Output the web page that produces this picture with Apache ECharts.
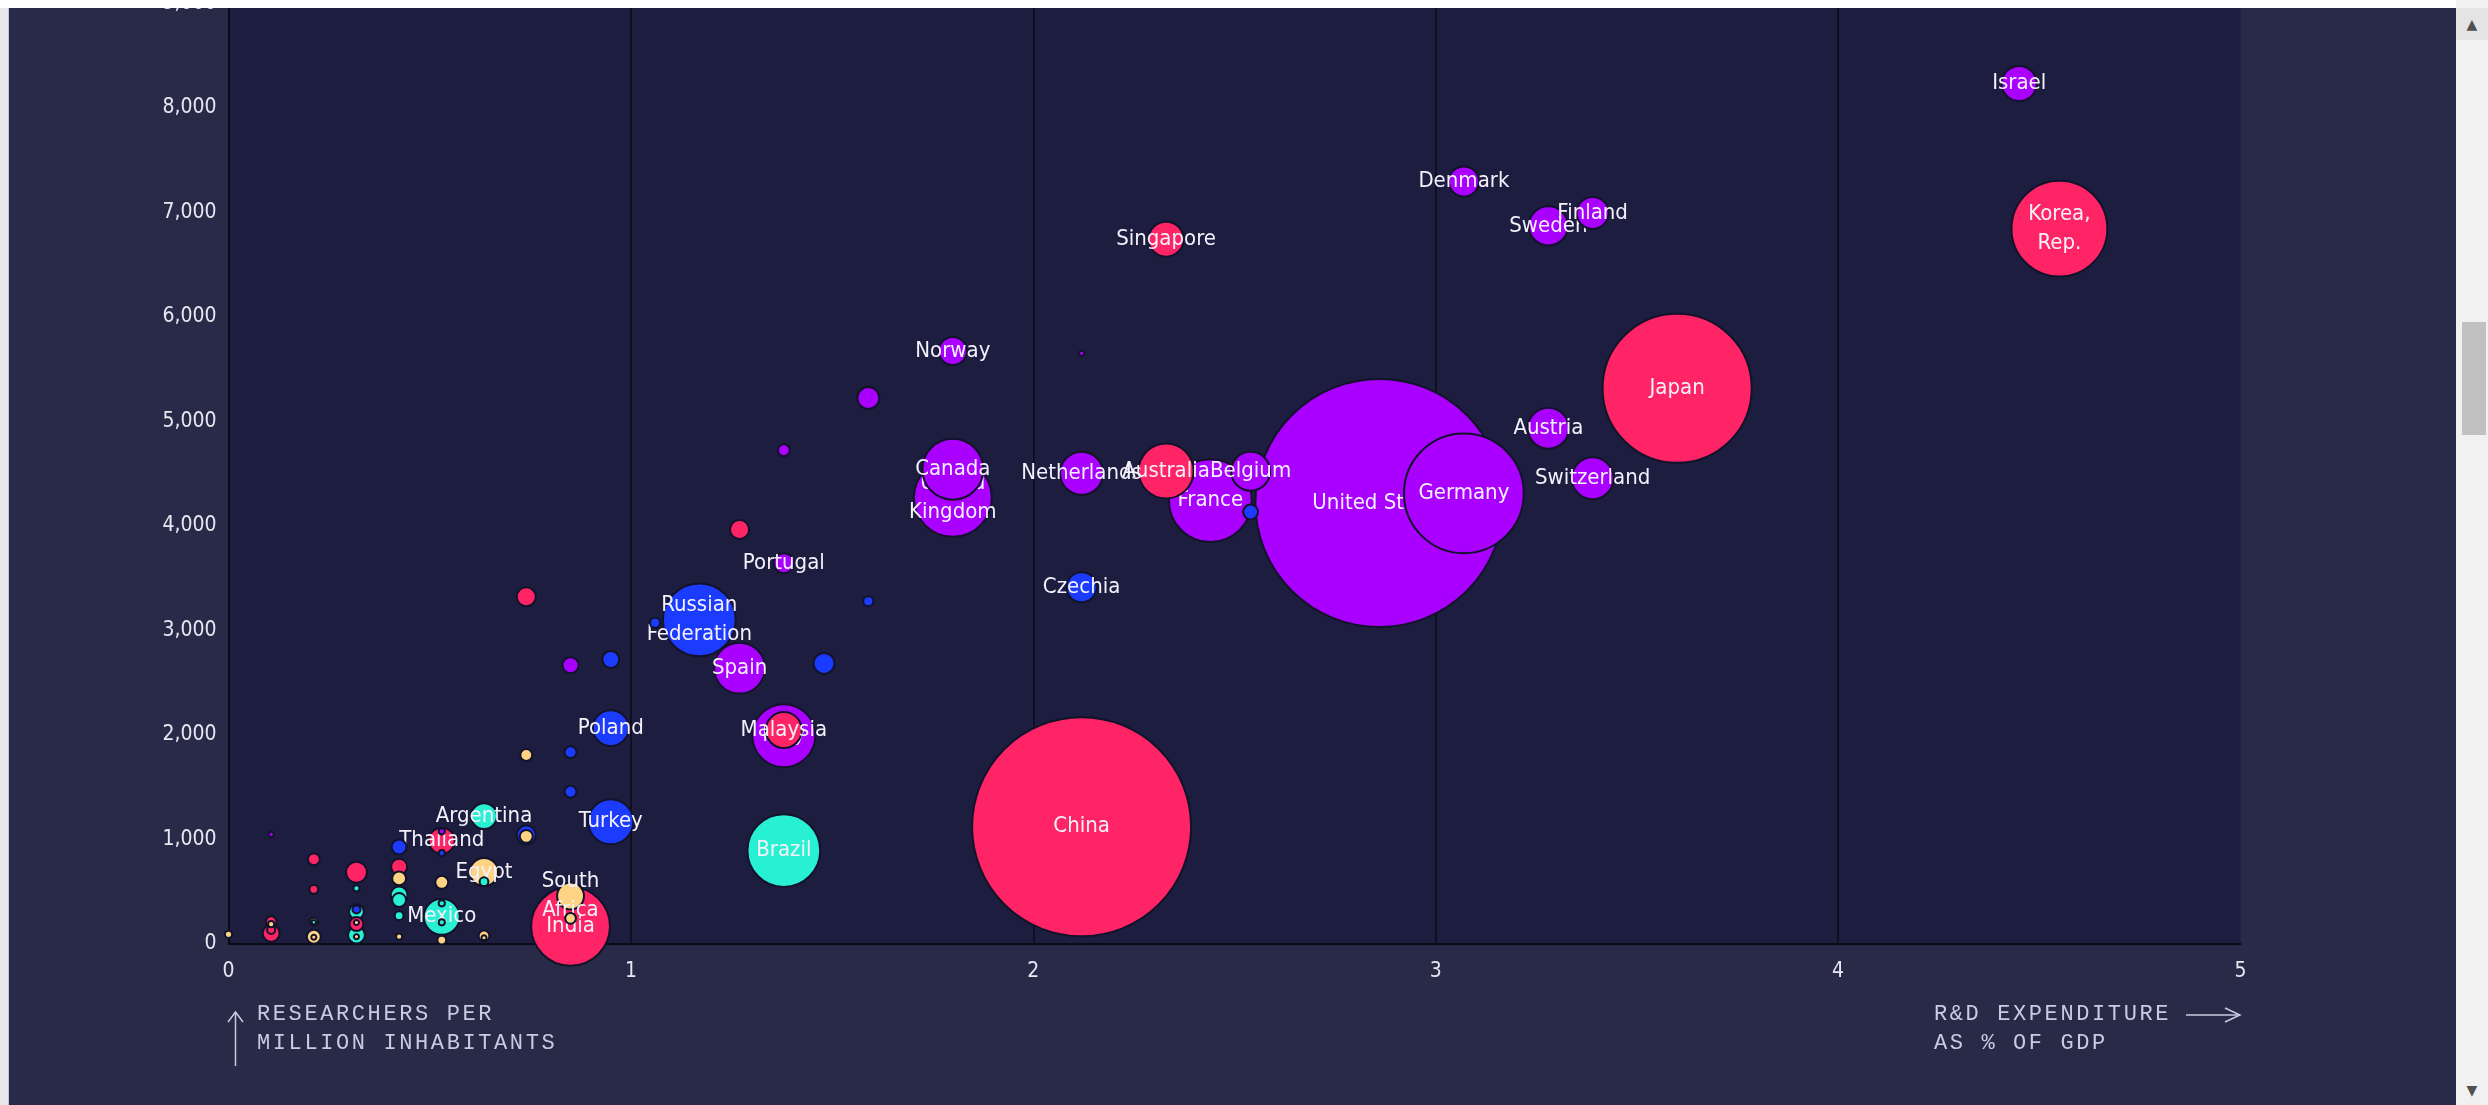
<!DOCTYPE html>
<html>
<head>
<meta charset="utf-8">
<script src="https://cdn.jsdelivr.net/npm/echarts@6/dist/echarts.min.js"></script>
<style>
  html, body { margin: 0; padding: 0; background: #282a48; overflow: hidden; }
  #chart { position: absolute; left: 0; top: 0; width: 2488px; height: 1105px; }
  .ttl { position: absolute; font-family: 'Liberation Mono', 'DejaVu Sans Mono', monospace; font-size: 22px;
         line-height: 29px; letter-spacing: 2.6px; color: #c9cbe0; white-space: nowrap; z-index: 5; }
  #topstrip { position: absolute; left: 0; top: 0; width: 2456px; height: 8px; background: #ffffff; z-index: 6; }
  #leftstrip { position: absolute; left: 0; top: 8px; width: 8px; height: 1097px; background: #e8e8eb; border-right: 1px solid #b9c6dc; z-index: 6; }
  #sb { position: absolute; left: 2456px; top: 0; width: 32px; height: 1105px; background: #f1f1f1; z-index: 6; }
  #sbup { position: absolute; left: 2456px; top: 8px; width: 32px; height: 32px; background: #e4e4e4; z-index: 7;
          color: #505050; font: 14px 'DejaVu Sans', sans-serif; text-align: center; line-height: 32px; }
  #sbdown { position: absolute; left: 2456px; top: 1076px; width: 32px; height: 29px; z-index: 7;
          color: #505050; font: 14px 'DejaVu Sans', sans-serif; text-align: center; line-height: 29px; }
  #sbthumb { position: absolute; left: 2462px; top: 322px; width: 24px; height: 113px; background: #c1c1c1; z-index: 7; }
</style>
</head>
<body>
<div id="chart"></div>
<div id="topstrip"></div>
<div id="leftstrip"></div>
<div id="sb"></div>
<div id="sbup">▲</div>
<div id="sbdown">▼</div>
<div id="sbthumb"></div>
<div class="ttl" style="left:257px; top:1000px;">RESEARCHERS PER<br>MILLION INHABITANTS</div>
<div class="ttl" style="left:1934px; top:1000px;">R&amp;D EXPENDITURE<br>AS % OF GDP</div>
<script>
// ---- Data ----
// Country labels (empty string = unlabeled country)
const names = [
  'United States', 'China', 'Japan', 'Germany', 'Korea,\nRep.', 'France', 'India', 'United\nKingdom',
  'Russian\nFederation', 'Brazil', 'Italy', 'Canada', 'Australia', 'Spain', 'Turkey', 'Netherlands',
  'Switzerland', 'Austria', 'Sweden', 'Belgium', 'Poland', 'Malaysia', 'Mexico', 'Israel',
  'Singapore', 'Finland', 'Denmark', 'Czechia', 'Norway', 'Egypt', 'South\nAfrica', 'Thailand',
  'Argentina', 'Portugal',
  '', '', '', '', '', '', '', '', '', '', '', '', '', '', '', '', '', '', '', '', '', '', '', '', '', '',
  '', '', '', '', '', '', '', '', '', '', '', '', '', '', '', '', '', '', '', '', '', '', '', '', '', '', ''
];
// R&D expenditure as % of GDP (x)
const rdPercent = [
  2.86, 2.12, 3.60, 3.07, 4.55, 2.44, 0.85, 1.80,
  1.17, 1.38, 1.38, 1.80, 2.33, 1.27, 0.95, 2.12,
  3.39, 3.28, 3.28, 2.54, 0.95, 1.38, 0.53, 4.45,
  2.33, 3.39, 3.07, 2.12, 1.80, 0.635, 0.85, 0.53,
  0.635, 1.38,
  1.59, 1.38, 2.12, 1.27, 1.59, 1.06, 0.95, 1.48, 0.74, 0.85,
  2.54, 0.85, 0.85, 0.74, 0.74, 0.74, 0.106, 0.424, 0.53, 0.53,
  0.212, 0.212, 0.318, 0.318, 0.424, 0.424, 0.424, 0.424, 0.424, 0.424,
  0.53, 0.53, 0.53, 0.53, 0.635, 0.635, 0.635, 0.318, 0.318, 0.318,
  0.318, 0.318, 0.318, 0.106, 0.106, 0.106, 0.106, 0.212, 0.212, 0.212,
  0.212, 0, 0.85
];
// Researchers per million inhabitants (y)
const researchers = [
  4220, 1122, 5318, 4313, 6845, 4242, 169, 4270,
  3102, 894, 1994, 4543, 4527, 2640, 1170, 4505,
  4457, 4935, 6872, 4524, 2066, 2047, 261, 8235,
  6745, 6996, 7297, 3414, 5674, 689, 459, 988,
  1224, 3644,
  5225, 4725, 5652, 3966, 3280, 3073, 2723, 2685, 3322, 2668,
  4134, 1836, 1457, 1808, 1042, 1030, 1049, 928, 1078, 869,
  810, 523, 686, 533, 739, 628, 469, 421, 271, 70,
  590, 389, 208, 38, 596, 77, 60, 309, 330, 191,
  205, 86, 70, 102, 135, 213, 190, 213, 208, 70,
  65, 93, 246
];
// Total R&D spending, billion US$ PPP (bubble area)
const rdSpend = [
  476, 371, 172, 111, 71, 53, 48, 47,
  41, 41, 30.7, 28.8, 23.4, 20.1, 15.7, 14.3,
  13.6, 13.0, 11.8, 11.8, 10.0, 10.0, 10.0, 9.5,
  9.5, 7.9, 7.0, 7.0, 6.1, 6.1, 5.6, 5.2,
  5.2, 3.1,
  3.7, 1.1, 0.2, 2.8, 0.8, 0.8, 2.2, 3.4, 2.8, 2.0,
  1.7, 1.1, 1.1, 1.1, 2.8, 1.3, 0.2, 1.7, 0.3, 0.3,
  1.1, 0.6, 3.4, 0.3, 2.0, 1.5, 2.2, 1.5, 0.6, 0.3,
  1.3, 0.3, 0.3, 0.6, 0.6, 0.9, 0.2, 1.7, 0.5, 1.5,
  0.2, 2.2, 0.2, 2.2, 0.5, 0.9, 0.3, 0.5, 0.15, 1.5,
  0.2, 0.4, 0.9
];
// Region group
const region = [
  'NA', 'EAP', 'EAP', 'EU', 'EAP', 'EU', 'EAP', 'EU',
  'ECA', 'LAC', 'EU', 'NA', 'EAP', 'EU', 'ECA', 'EU',
  'EU', 'EU', 'EU', 'EU', 'ECA', 'EAP', 'LAC', 'EU',
  'EAP', 'EU', 'EU', 'ECA', 'EU', 'MEA', 'MEA', 'EAP',
  'LAC', 'EU',
  'EU', 'EU', 'EU', 'EAP', 'ECA', 'ECA', 'ECA', 'ECA', 'EAP', 'EU',
  'ECA', 'ECA', 'ECA', 'MEA', 'ECA', 'MEA', 'EU', 'ECA', 'EU', 'ECA',
  'EAP', 'EAP', 'EAP', 'LAC', 'EAP', 'MEA', 'LAC', 'LAC', 'LAC', 'MEA',
  'MEA', 'LAC', 'LAC', 'MEA', 'LAC', 'MEA', 'MEA', 'LAC', 'ECA', 'EAP',
  'MEA', 'LAC', 'MEA', 'EAP', 'EAP', 'EAP', 'MEA', 'MEA', 'LAC', 'MEA',
  'MEA', 'MEA', 'MEA'
];
const xTicks = [0, 1, 2, 3, 4, 5];
const yTicks = [0, 1000, 2000, 3000, 4000, 5000, 6000, 7000, 8000, 9000];

// ---- Styles ----
const regionColor = { NA: '#aa00ff', EU: '#aa00ff', EAP: '#ff2466', ECA: '#1b3bff', LAC: '#27f0d3', MEA: '#ffd384' };
const sizeScale = 11.37; // diameter per sqrt(billion)
const condensed = "'DejaVu Sans Condensed', 'DejaVu Sans', sans-serif";

const order = names.map((_, i) => i).sort((a, b) => rdSpend[b] - rdSpend[a]);
const series = order.map((i, k) => ({
  type: 'scatter',
  name: names[i] || ('c' + i),
  z: 3 + k,
  silent: true,
  animation: false,
  data: [[rdPercent[i], researchers[i]]],
  symbol: 'circle',
  symbolSize: Math.sqrt(rdSpend[i]) * sizeScale,
  itemStyle: { color: regionColor[region[i]], borderColor: '#12122a', borderWidth: 2, opacity: 1 },
  label: {
    show: !!names[i],
    position: 'inside',
    formatter: names[i],
    color: '#f4f1fb',
    fontFamily: condensed,
    fontSize: 22,
    lineHeight: 29
  },
  emphasis: { disabled: true }
}));

const chart = echarts.init(document.getElementById('chart'), null, { renderer: 'canvas' });
const axisDark = '#0b0b18';
chart.setOption({
  backgroundColor: '#282a48',
  animation: false,
  grid: { left: 228.5, right: 247.5, top: 3.5, bottom: 161, show: true, backgroundColor: '#1d1d40', borderWidth: 0,
          containLabel: false, outerBoundsMode: 'none' },
  xAxis: {
    type: 'value', min: xTicks[0], max: xTicks[xTicks.length - 1], interval: 1,
    axisLine: { show: true, onZero: false, lineStyle: { color: axisDark, width: 2 } },
    axisTick: { show: false },
    splitLine: { show: true, showMinLine: false, showMaxLine: false, lineStyle: { color: axisDark, width: 1.5 } },
    axisLabel: { color: '#e8e8f2', fontFamily: condensed, fontSize: 21, margin: 17,
                 formatter: v => xTicks.includes(v) ? String(v) : '' }
  },
  yAxis: {
    type: 'value', min: yTicks[0], max: yTicks[yTicks.length - 1], interval: 1000,
    axisLine: { show: true, onZero: false, lineStyle: { color: axisDark, width: 2 } },
    axisTick: { show: false },
    splitLine: { show: false },
    axisLabel: { color: '#e8e8f2', fontFamily: condensed, fontSize: 21, margin: 12,
                 formatter: v => v.toLocaleString('en-US') }
  },
  graphic: [
    { type: 'line', silent: true, z: 100, shape: { x1: 235.5, y1: 1012, x2: 235.5, y2: 1066 }, style: { stroke: '#c9cbe0', lineWidth: 1.5 } },
    { type: 'polyline', silent: true, z: 100, shape: { points: [[228, 1022], [235.5, 1012], [243, 1022]] }, style: { stroke: '#c9cbe0', lineWidth: 1.5, fill: null } },
    { type: 'line', silent: true, z: 100, shape: { x1: 2186, y1: 1015, x2: 2240, y2: 1015 }, style: { stroke: '#c9cbe0', lineWidth: 1.5 } },
    { type: 'polyline', silent: true, z: 100, shape: { points: [[2225, 1008], [2240, 1015], [2225, 1022]] }, style: { stroke: '#c9cbe0', lineWidth: 1.5, fill: null } }
  ],
  series: series
});
</script>
</body>
</html>
